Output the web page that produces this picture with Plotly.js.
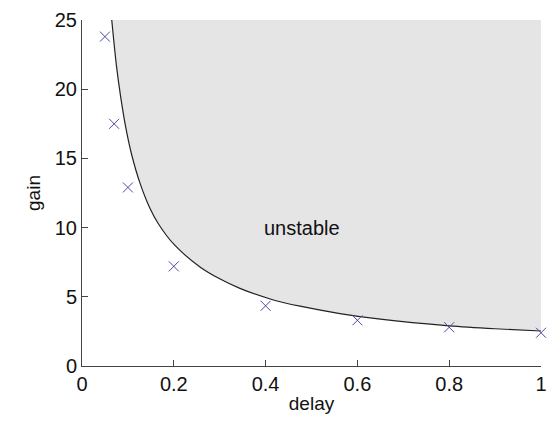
<!DOCTYPE html>
<html>
<head>
<meta charset="utf-8">
<script src="https://cdn.plot.ly/plotly-3.0.1.min.js"></script>
<style>html,body{margin:0;padding:0;background:#fff;}#chart{width:547px;height:424px;}</style>
</head>
<body>
<div id="chart"></div>
<script>
// Stability boundary
var curveDelay = [0.0648, 0.075, 0.084, 0.095, 0.108, 0.126, 0.148, 0.166, 0.2, 0.257, 0.3, 0.344, 0.417, 0.475, 0.562, 0.65, 0.8, 0.9, 1.0];
var curveGain  = [25, 21.7, 19.5, 17.3, 15.3, 13.25, 11.4, 10.3, 8.8, 7.16, 6.3, 5.61, 4.77, 4.32, 3.79, 3.38, 2.9, 2.69, 2.53];
// Measured points (x markers)
var pointDelay = [0.05, 0.07, 0.1, 0.2, 0.4, 0.6, 0.8, 1.0];
var pointGain  = [23.8, 17.5, 12.9, 7.2, 4.35, 3.3, 2.8, 2.4];
// Axis limits and tick values
var xRange = [0, 1];
var yRange = [0, 25];
var xTicks = [0, 0.2, 0.4, 0.6, 0.8, 1];
var xTickText = ['0', '0.2', '0.4', '0.6', '0.8', '1'];
var yTicks = [0, 5, 10, 15, 20, 25];
var regionLabel = 'unstable';

var fillX = curveDelay.concat([xRange[1], curveDelay[0]]);
var fillY = curveGain.concat([yRange[1], yRange[1]]);

var traces = [
  {x: fillX, y: fillY, type: 'scatter', mode: 'lines', fill: 'toself',
   fillcolor: '#e5e5e5', line: {width: 0, color: 'rgba(0,0,0,0)'}, hoverinfo: 'skip', showlegend: false},
  {x: curveDelay, y: curveGain, type: 'scatter', mode: 'lines',
   line: {color: '#222', width: 1.2, shape: 'spline', smoothing: 0.8}, showlegend: false},
  {x: pointDelay, y: pointGain, type: 'scatter', mode: 'markers',
   marker: {symbol: 'x-thin-open', size: 10, color: '#4a4aa8', line: {width: 1, color: '#4a4aa8'}}, showlegend: false, cliponaxis: false}
];

var fontFam = '"Liberation Sans", Arial, Helvetica, sans-serif';
var layout = {
  width: 547, height: 424,
  margin: {l: 82, r: 6, t: 20, b: 58, pad: 0},
  paper_bgcolor: '#fff', plot_bgcolor: '#fff',
  font: {family: fontFam, size: 20, color: '#111'},
  showlegend: false,
  xaxis: {
    range: xRange, tickvals: xTicks, ticktext: xTickText,
    ticks: 'inside', ticklen: 6, tickcolor: '#444', tickwidth: 1,
    showline: true, linecolor: '#444', linewidth: 1, mirror: false,
    showgrid: false, zeroline: false, automargin: false,
    tickfont: {size: 20, family: fontFam, color: '#111'},
    title: {text: 'delay', font: {size: 19, family: fontFam, color: '#111'}, standoff: 2}
  },
  yaxis: {
    range: yRange, tickvals: yTicks,
    ticks: 'inside', ticklen: 6, tickcolor: '#444', tickwidth: 1,
    showline: true, linecolor: '#444', linewidth: 1, mirror: false,
    showgrid: false, zeroline: false, automargin: false,
    tickfont: {size: 20, family: fontFam, color: '#111'},
    title: {text: 'gain', font: {size: 19, family: fontFam, color: '#111'}, standoff: 9}
  },
  annotations: [
    {x: 0.48, y: 10, xref: 'x', yref: 'y', text: regionLabel, showarrow: false,
     font: {size: 20, family: fontFam, color: '#111'}}
  ]
};

Plotly.newPlot('chart', traces, layout, {staticPlot: true, displayModeBar: false});
</script>
</body>
</html>
